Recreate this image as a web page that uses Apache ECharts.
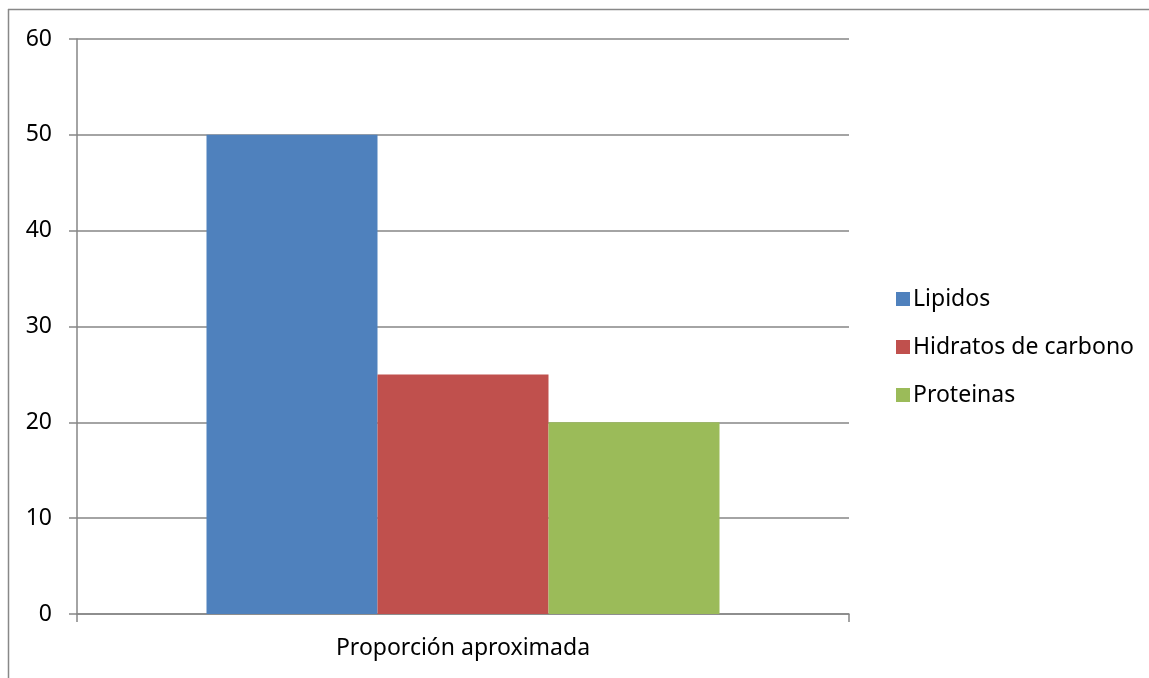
<!DOCTYPE html>
<html><head><meta charset="utf-8">
<script src="https://cdn.jsdelivr.net/npm/echarts@6/dist/echarts.min.js"></script>
<style>html,body{margin:0;padding:0;background:#fff}#c{width:1149px;height:678px}</style>
</head><body><div id="c"></div>
<script>
const categories = ['Proporción aproximada'];
const seriesNames = ['Lipidos', 'Hidratos de carbono', 'Proteinas'];
const lipidos = [50];
const hidratos = [25];
const proteinas = [20];
const colors = ['#4F81BD', '#C0504D', '#9BBB59'];
const values = [lipidos, hidratos, proteinas];

const chart = echarts.init(document.getElementById('c'));
const font = 'Noto Sans';
chart.setOption({
  animation: false,
  grid: {left: 77, right: 300, top: 39, bottom: 64},
  graphic: [
    {type: 'line', shape: {x1: 8.5, y1: 9, x2: 8.5, y2: 678}, style: {stroke: '#888', lineWidth: 1.5}},
    {type: 'line', shape: {x1: 8, y1: 9.5, x2: 1149, y2: 9.5}, style: {stroke: '#888', lineWidth: 1.5}}
  ],
  legend: {
    orient: 'vertical', left: 891, top: 282, itemGap: 24, itemWidth: 14, itemHeight: 14,
    icon: 'rect', textStyle: {fontFamily: font, fontSize: 23, lineHeight: 24, color: '#000', padding: [0,0,0,-2]},
    data: seriesNames
  },
  xAxis: {
    type: 'category', data: categories,
    axisLine: {lineStyle: {color: '#868686', width: 1.5}},
    axisTick: {show: true, length: 8, lineStyle: {color: '#868686', width: 1.5}},
    axisLabel: {fontFamily: font, fontSize: 23, color: '#000', margin: 23}
  },
  yAxis: {
    type: 'value', min: 0, max: 60, interval: 10,
    axisLine: {show: true, lineStyle: {color: '#868686', width: 1.5}},
    axisTick: {show: true, length: 8, lineStyle: {color: '#868686', width: 1.5}},
    splitLine: {lineStyle: {color: '#868686', width: 1.5}},
    axisLabel: {fontFamily: font, fontSize: 23, color: '#000', margin: 25}
  },
  series: seriesNames.map((n, i) => ({
    name: n, type: 'bar', data: values[i], barWidth: 171, barGap: '0%',
    itemStyle: {color: colors[i]}
  }))
});
</script></body></html>
